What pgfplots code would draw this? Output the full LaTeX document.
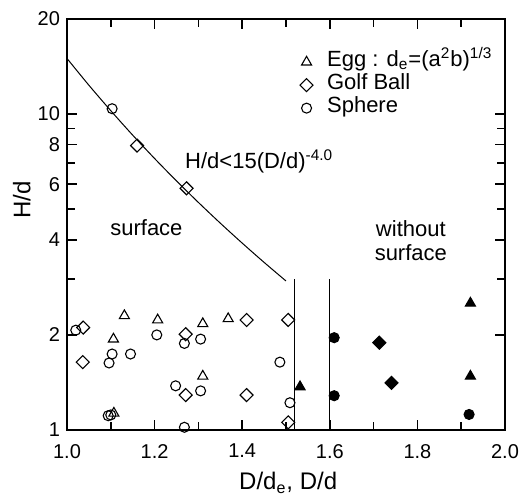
\documentclass[border=0pt]{standalone}
\usepackage{fontspec}
\setmainfont{Liberation Sans}
\usepackage{pgfplots}
\pgfplotsset{compat=1.18}

\begin{document}
\begin{tikzpicture}
\begin{axis}[
    scale only axis,
    width  = 219pt,
    height = 205.5pt,
    xmin = 1, xmax = 2,
    ymode = log, ymin = 1, ymax = 20,
    xtick = {1,1.2,1.4,1.6,1.8,2},
    minor xtick = {1.1,1.3,1.5,1.7,1.9},
    ytick = {1,2,4,6,8,10,20},
    yticklabels = {1,2,4,6,8,10,20},
    minor ytick = {3,5,7,9},
    xticklabel style = {/pgf/number format/.cd, fixed, fixed zerofill, precision=1, /tikz/.cd, yshift=-3.5pt},
    /pgf/number format/assume math mode = true,
    ticklabel style = {font=\fontsize{10}{12}\selectfont},
    major tick length = 5pt,
    minor tick length = 3.8pt,
    tick style = {line width=0.8pt, black},
    axis line style = {line width=1pt},
    clip = false,
    xlabel = {D/d\textsubscript{e}, D/d},
    ylabel = {H/d},
    xlabel style = {font=\fontsize{12}{14}\selectfont, at={(axis description cs:0.505,-0.145)}, anchor=base},
    ylabel style = {font=\fontsize{12}{14}\selectfont, at={(axis description cs:-0.1034,0.56)}, anchor=center},
    legend cell align = left,
    legend style = {
        at = {(rel axis cs:0.532,0.923)}, anchor = north west,
        draw = none, fill = none, inner sep = 0pt, outer sep = 0pt,
        font = \fontsize{11}{13}\selectfont, row sep = 0pt,
        nodes = {inner sep=0pt, text height=8pt, text depth=3.5pt, anchor=west}
    },
    legend image code/.code = {\path (-3pt,0pt) (10pt,0pt); \draw[#1] plot coordinates {(0pt,0pt)};},
    every axis plot/.append style = {line width=0.55pt},
]
    % open symbols: surface
    \addplot[only marks, mark=triangle, mark size=2.9pt] coordinates {
        (1.106,1.94) (1.131,2.30) (1.107,1.13) (1.207,2.23)
        (1.310,2.17) (1.310,1.48) (1.368,2.25)
    };
    \addlegendentry{Egg : d\textsubscript{e}=(a\textsuperscript{2}b)\textsuperscript{1/3}}
    \addplot[only marks, mark=square, mark options={rotate=45}, mark size=2.3pt] coordinates {
        (1.037,2.11) (1.036,1.64) (1.271,2.01) (1.271,1.29) (1.410,2.23)
        (1.410,1.29) (1.505,2.23) (1.505,1.057) (1.160,7.95) (1.273,5.82)
    };
    \addlegendentry{Golf Ball}
    \addplot[only marks, mark=o, mark size=2.5pt] coordinates {
        (1.020,2.07) (1.103,1.74) (1.096,1.63) (1.145,1.74) (1.094,1.11)
        (1.100,1.116) (1.205,2.00) (1.268,1.88) (1.305,1.94) (1.305,1.33)
        (1.248,1.38) (1.268,1.02) (1.486,1.64) (1.509,1.22) (1.103,10.4)
    };
    \addlegendentry{Sphere}

    % filled symbols: without surface
    \addplot[only marks, forget plot, mark=triangle*, mark size=2.9pt] coordinates {
        (1.532,1.37) (1.921,2.52) (1.921,1.48)
    };
    \addplot[only marks, forget plot, mark=square*, mark options={rotate=45}, mark size=2.3pt] coordinates {
        (1.713,1.89) (1.741,1.41)
    };
    \addplot[only marks, forget plot, mark=*, mark size=2.5pt] coordinates {
        (1.610,1.96) (1.610,1.284) (1.918,1.12)
    };

    % H/d = 15 (D/d)^-4
    \addplot[forget plot, smooth, no marks, line width=0.5pt] coordinates {
        (1.00,15.00) (1.05,12.34) (1.10,10.25) (1.15,8.576) (1.20,7.234)
        (1.25,6.144) (1.30,5.252) (1.35,4.516) (1.40,3.905) (1.45,3.393) (1.50,2.963)
    };
    \addplot[forget plot, no marks, line width=0.6pt] coordinates {(1.52,1) (1.52,3.0)};
    \addplot[forget plot, no marks, line width=0.6pt] coordinates {(1.60,1) (1.60,3.0)};

    \node[anchor=base west, inner sep=0pt, font=\fontsize{11}{13}\selectfont] at (axis cs:1.269,6.75) {H/d<15(D/d)\textsuperscript{-4.0}};
    \node[anchor=base west, inner sep=0pt, font=\fontsize{11}{13}\selectfont] at (axis cs:1.098,4.14) {surface};
    \node[anchor=base, inner sep=0pt, font=\fontsize{11}{13}\selectfont] at (axis cs:1.785,4.11) {without};
    \node[anchor=base, inner sep=0pt, font=\fontsize{11}{13}\selectfont] at (axis cs:1.785,3.45) {surface};
\end{axis}
\pgfresetboundingbox
\path (current axis.south west) ++(-33.5pt,-33.5pt) rectangle ++(264pt,248.5pt);
\end{tikzpicture}
\end{document}
